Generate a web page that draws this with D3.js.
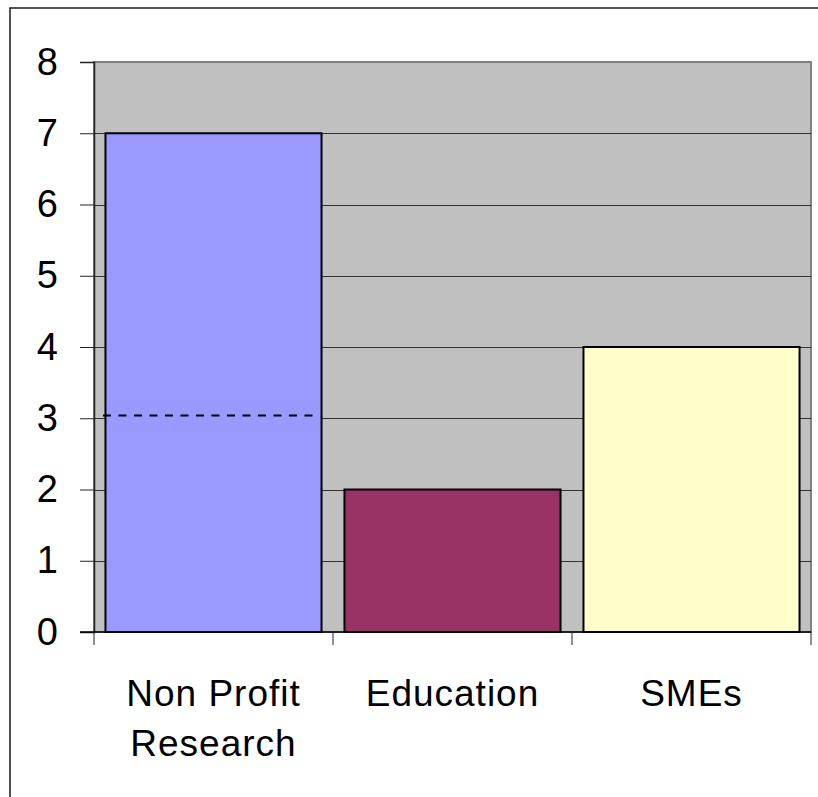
<!DOCTYPE html>
<html><head><meta charset="utf-8">
<script src="https://cdn.jsdelivr.net/npm/d3@7"></script>
<style>html,body{margin:0;padding:0;background:#fff;}svg{display:block;}</style>
</head><body>
<svg id="c" width="818" height="797"></svg>
<script>
const categories = ["Non Profit Research", "Education", "SMEs"];
const categoryLines = [["Non Profit", "Research"], ["Education"], ["SMEs"]];
const values = [7, 2, 4];
const barColors = ["#9999FF", "#993366", "#FFFFCC"];
const yTicks = [0, 1, 2, 3, 4, 5, 6, 7, 8];
const refLine = [{ category: "Non Profit Research", value: 3.04 }];

const svg = d3.select("#c");
const L = 94, R = 811, T = 62, B = 632;
const x = d3.scaleBand().domain(categories).range([L, R]).paddingInner(0.096).paddingOuter(0.048);
const y = d3.scaleLinear().domain([0, 8]).range([B, T]);
const font = "'Liberation Sans', Arial, sans-serif";

// outer border
svg.append("rect").attr("x", 10).attr("y", 8).attr("width", 830).attr("height", 820)
  .attr("fill", "#fff").attr("stroke", "#1a1a1a").attr("stroke-width", 1.5);

// plot area
svg.append("rect").attr("x", L).attr("y", T).attr("width", R - L).attr("height", B - T)
  .attr("fill", "#C0C0C0").attr("stroke", "#808080").attr("stroke-width", 2);

// gridlines
svg.append("g").selectAll("line").data(yTicks.filter(d => d > 0 && d < 8)).join("line")
  .attr("x1", L).attr("x2", R).attr("y1", d => Math.round(y(d)) + 0.5).attr("y2", d => Math.round(y(d)) + 0.5)
  .attr("stroke", "#333").attr("stroke-width", 1);

// bars
svg.append("g").selectAll("rect").data(categories).join("rect")
  .attr("x", d => x(d)).attr("width", x.bandwidth())
  .attr("y", (d, i) => y(values[i])).attr("height", (d, i) => y(0) - y(values[i]))
  .attr("fill", (d, i) => barColors[i]).attr("stroke", "#000").attr("stroke-width", 2);

// dashed reference line
svg.append("g").selectAll("line").data(refLine).join("line")
  .attr("x1", d => x(d.category) - 2.5).attr("x2", d => x(d.category) + x.bandwidth() - 8.5)
  .attr("y1", d => y(d.value)).attr("y2", d => y(d.value))
  .attr("stroke", "#000").attr("stroke-width", 2).attr("stroke-dasharray", "8,7.5");

// y axis
const yAxis = d3.axisLeft(y).tickValues(yTicks).tickSize(14).tickPadding(22).tickFormat(d3.format("d"));
const gy = svg.append("g").attr("transform", `translate(${L},0)`).call(yAxis);
gy.select(".domain").attr("stroke", "#222").attr("stroke-width", 1.5);
gy.selectAll(".tick line").attr("stroke", "#222");
gy.selectAll(".tick text").attr("font-family", font).attr("font-size", 38).attr("fill", "#000");

// x axis ticks (boundaries)
const bounds = [0, 1, 2, 3].map(i => L + i * x.step());
svg.append("line").attr("x1", L - 14).attr("x2", R).attr("y1", B).attr("y2", B)
  .attr("stroke", "#000").attr("stroke-width", 1.5);
svg.append("g").selectAll("line").data(bounds).join("line")
  .attr("x1", d => d).attr("x2", d => d).attr("y1", B).attr("y2", B + 13)
  .attr("stroke", "#222").attr("stroke-width", 1);

// category labels
const lab = svg.append("g").selectAll("text").data(categories).join("text")
  .attr("font-family", font).attr("font-size", 37).attr("letter-spacing", 1)
  .attr("text-anchor", "middle").attr("fill", "#000");
lab.each(function (d, i) {
  const cx = x(d) + x.bandwidth() / 2;
  d3.select(this).selectAll("tspan").data(categoryLines[i]).join("tspan")
    .attr("x", cx).attr("y", (t, j) => 706 + j * 50).text(t => t);
});
</script>
</body></html>
